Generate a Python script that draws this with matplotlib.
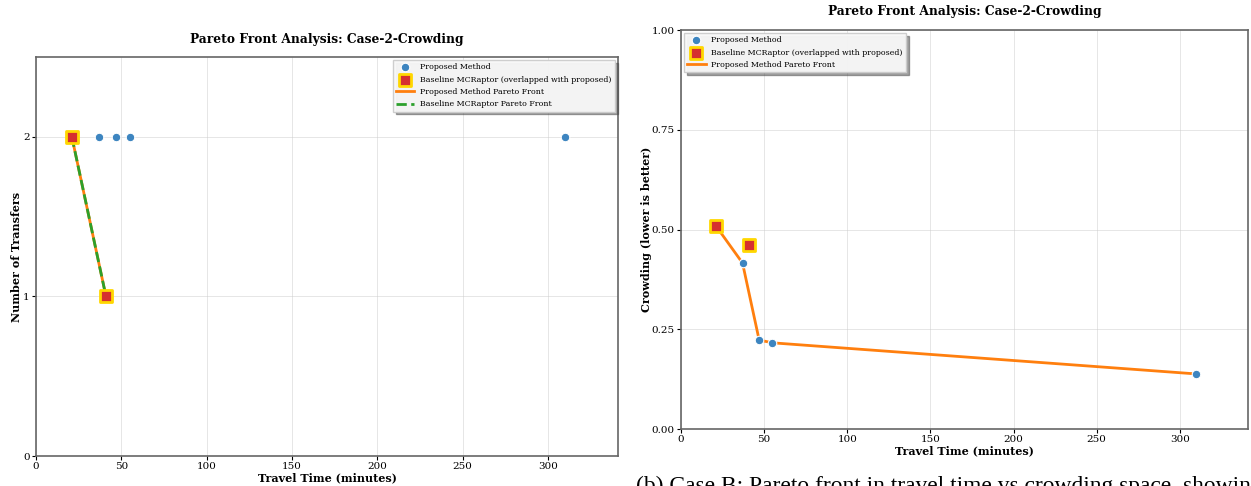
import matplotlib
matplotlib.use("Agg")
import matplotlib.pyplot as plt

# ---- data ----
prop_time = [21, 37, 41, 47, 55, 310]
prop_transfers = [2, 2, 1, 2, 2, 2]
prop_crowding = [0.509, 0.416, 0.461, 0.223, 0.216, 0.138]

base_time = [21, 41]
base_transfers = [2, 1]
base_crowding = [0.509, 0.461]

front_trans_time = [21, 41]
front_trans_vals = [2, 1]
front_crowd_time = [21, 37, 47, 55, 310]
front_crowd_vals = [0.509, 0.416, 0.223, 0.216, 0.138]

title = "Pareto Front Analysis: Case-2-Crowding"
caption = "(b) Case B: Pareto front in travel time vs crowding space, showing"

plt.rcParams['font.family'] = ['DejaVu Serif']

W, H = 1251, 486
fig = plt.figure(figsize=(W / 100, H / 100), dpi=100)

def px_axes(l, t, r, b):
    return fig.add_axes([l / W, 1 - b / H, (r - l) / W, (b - t) / H])

ax1 = px_axes(36, 57, 618, 456)
ax2 = px_axes(681, 30, 1248, 429)

blue = '#3d85c0'
orange = '#ff7f0e'
green = '#2ca02c'

def style(ax, pad):
    for s in ax.spines.values():
        s.set_color('#666666')
        s.set_linewidth(1.2)
    ax.grid(True, color='#cccccc', alpha=0.5, linewidth=0.7)
    ax.set_axisbelow(True)
    ax.tick_params(labelsize=7.5, length=3, width=0.8, pad=1.5)
    ax.set_xlim(0, 341)
    ax.set_xticks([0, 50, 100, 150, 200, 250, 300])
    ax.set_xlabel("Travel Time (minutes)", fontsize=8, fontweight='bold', labelpad=1)
    ax.set_title(title, fontsize=8.85, fontweight='bold', pad=pad)

def legend(ax, loc):
    leg = ax.legend(loc=loc, fontsize=5.7, frameon=True, shadow=True, fancybox=False,
                    framealpha=0.95, borderpad=0.4, handlelength=2.3, handletextpad=0.75,
                    labelspacing=0.55, borderaxespad=0.4)
    leg.get_frame().set_facecolor('#f8f8f8')
    leg.get_frame().set_edgecolor('#cccccc')
    return leg

# Left
ax1.scatter(prop_time, prop_transfers, s=38, color=blue, edgecolor='white', linewidth=0.8,
            zorder=3, label="Proposed Method")
ax1.scatter(base_time, base_transfers, s=80, marker='s', color='#d62f2f', edgecolor='#ffd700',
            linewidth=2, zorder=4, label="Baseline MCRaptor (overlapped with proposed)")
ax1.plot(front_trans_time, front_trans_vals, color=orange, lw=2, zorder=2,
         label="Proposed Method Pareto Front")
ax1.plot(front_trans_time, front_trans_vals, color=green, lw=2, ls='--', zorder=2,
         label="Baseline MCRaptor Pareto Front")
ax1.set_ylim(0, 2.5)
ax1.set_yticks([0, 1, 2])
ax1.set_ylabel("Number of Transfers", fontsize=8, fontweight='bold', labelpad=1)
style(ax1, 10)
legend(ax1, 'upper right')

# Right
ax2.scatter(prop_time, prop_crowding, s=38, color=blue, edgecolor='white', linewidth=0.8,
            zorder=3, label="Proposed Method")
ax2.scatter(base_time, base_crowding, s=80, marker='s', color='#d62f2f', edgecolor='#ffd700',
            linewidth=2, zorder=4, label="Baseline MCRaptor (overlapped with proposed)")
ax2.plot(front_crowd_time, front_crowd_vals, color=orange, lw=2, zorder=2,
         label="Proposed Method Pareto Front")
ax2.set_ylim(0, 1.0)
ax2.set_yticks([0, 0.25, 0.5, 0.75, 1.0])
ax2.set_yticklabels(["0.00", "0.25", "0.50", "0.75", "1.00"])
ax2.set_ylabel("Crowding (lower is better)", fontsize=8, fontweight='bold', labelpad=0)
style(ax2, 10.5)
legend(ax2, 'upper left')

fig.text(636 / W, 1 - 476 / H, caption, fontsize=16.9, family=['Liberation Serif'],
         va='top', ha='left')

fig.savefig("out.png", dpi=100)
